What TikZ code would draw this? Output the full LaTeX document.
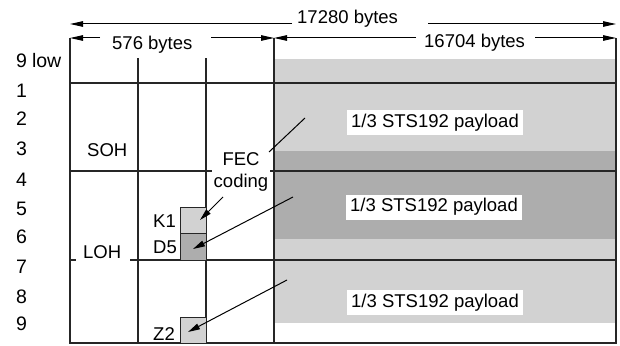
\documentclass[tikz,border=0pt]{standalone}
\usepackage{fontspec}
\setmainfont{Liberation Sans}
\usetikzlibrary{arrows.meta}
\definecolor{lightg}{RGB}{210,210,210}
\definecolor{darkg}{RGB}{173,173,173}
\tikzset{
  txt/.style={inner sep=0pt, font=\fontsize{18.5}{22}\selectfont},
  rowlab/.style={inner sep=0pt, font=\fontsize{19.5}{22}\selectfont, anchor=base west},
  grid/.style={line width=1.1pt, draw=black!85},
  arr/.style={line width=1pt, -{Triangle[length=12pt,width=6pt]}},
  dim/.style={line width=1pt, -{Triangle[length=13pt,width=5.5pt]}},
  paylab/.style={txt, fill=white, minimum width=176pt, minimum height=25pt},
  smallbox/.style={draw=black!85, line width=1pt, inner sep=0pt, minimum width=26pt, minimum height=26.5pt, anchor=north west}
}
\begin{document}
\begin{tikzpicture}[x=1pt,y=-1pt]
\useasboundingbox (0,0) rectangle (620,345);
% gray payload areas
\fill[lightg] (274,59) rectangle (616,323);
\fill[darkg] (274,151) rectangle (616,239);
% grid
\draw[grid] (70,38) -- (70,343) -- (616,343) -- (616,38);
\draw[grid] (274,38) -- (274,343);
\draw[grid] (138,58) -- (138,343);
\draw[grid] (206,58) -- (206,343);
\draw[grid] (70,83) -- (616,83);
\draw[grid] (70,171) -- (212,171);
\draw[grid] (270,171) -- (616,171);
\draw[grid] (70,260) -- (76,260);
\draw[grid] (130,260) -- (616,260);
% dimension lines
\coordinate (d1l) at (70,24);  \coordinate (d1a) at (292,24);
\coordinate (d1b) at (428,24); \coordinate (d1r) at (616,24);
\draw[dim] (d1a) -- (d1l);
\draw[dim] (d1b) -- (d1r);
\node[txt, anchor=base west] (t17280) at (297,24) {17280 bytes};
\coordinate (d2l) at (70,38);  \coordinate (d2a) at (100,38);
\coordinate (d2b) at (211,38); \coordinate (d2r) at (274,38);
\draw[dim] (d2a) -- (d2l);
\draw[dim] (d2b) -- (d2r);
\node[txt, anchor=base west] (t576) at (112,49) {576 bytes};
\coordinate (d3l) at (274,38);  \coordinate (d3a) at (416,38);
\coordinate (d3b) at (535,38); \coordinate (d3r) at (616,38);
\draw[dim] (d3a) -- (d3l);
\draw[dim] (d3b) -- (d3r);
\node[txt, anchor=base west] (t16704) at (424,48) {16704 bytes};
% row labels
\node[rowlab] (r0) at (16,67.5) {9\hspace{5pt}low};
\node[rowlab] (r1) at (16,97.5) {1};
\node[rowlab] (r2) at (16,125.5) {2};
\node[rowlab] (r3) at (16,155.5) {3};
\node[rowlab] (r4) at (16,186.5) {4};
\node[rowlab] (r5) at (16,215.5) {5};
\node[rowlab] (r6) at (16,243.5) {6};
\node[rowlab] (r7) at (16,273.5) {7};
\node[rowlab] (r8) at (16,303) {8};
\node[rowlab] (r9) at (16,330.5) {9};
% overhead labels
\node[txt, anchor=base west] (soh) at (87,156.5) {SOH};
\node[txt, anchor=base west] (loh) at (83,258) {LOH};
\node[txt, anchor=north, align=center] (fec) at (241,152) {FEC\\coding};
% payload labels
\node[paylab] (p1) at (435,122.5) {1/3 STS192 payload};
\node[paylab] (p2) at (434,207) {1/3 STS192 payload};
\node[paylab] (p3) at (435,302.5) {1/3 STS192 payload};
% small boxes
\node[smallbox, fill=lightg] (k1) at (180,206.5) {};
\node[smallbox, fill=darkg] (d5) at (180,233) {};
\node[smallbox, fill=lightg] (z2) at (180,316.5) {};
\node[txt, anchor=base west] (k1l) at (153,227) {K1};
\node[txt, anchor=base west] (d5l) at (153,253) {D5};
\node[txt, anchor=base west] (z2l) at (153,340) {Z2};
% connectors
\coordinate (fecA) at (223,197);
\coordinate (k1t) at (200,220);
\draw[arr] (fecA) -- (k1t);
\coordinate (fecB) at (269,152);
\coordinate (p1s) at (305,118);
\draw[line width=1pt] (fecB) -- (p1s);
\coordinate (p2s) at (293,197);
\coordinate (d5t) at (193,249);
\draw[arr] (p2s) -- (d5t);
\coordinate (p3s) at (287,280);
\coordinate (z2t) at (188,332);
\draw[arr] (p3s) -- (z2t);
\end{tikzpicture}
\end{document}
